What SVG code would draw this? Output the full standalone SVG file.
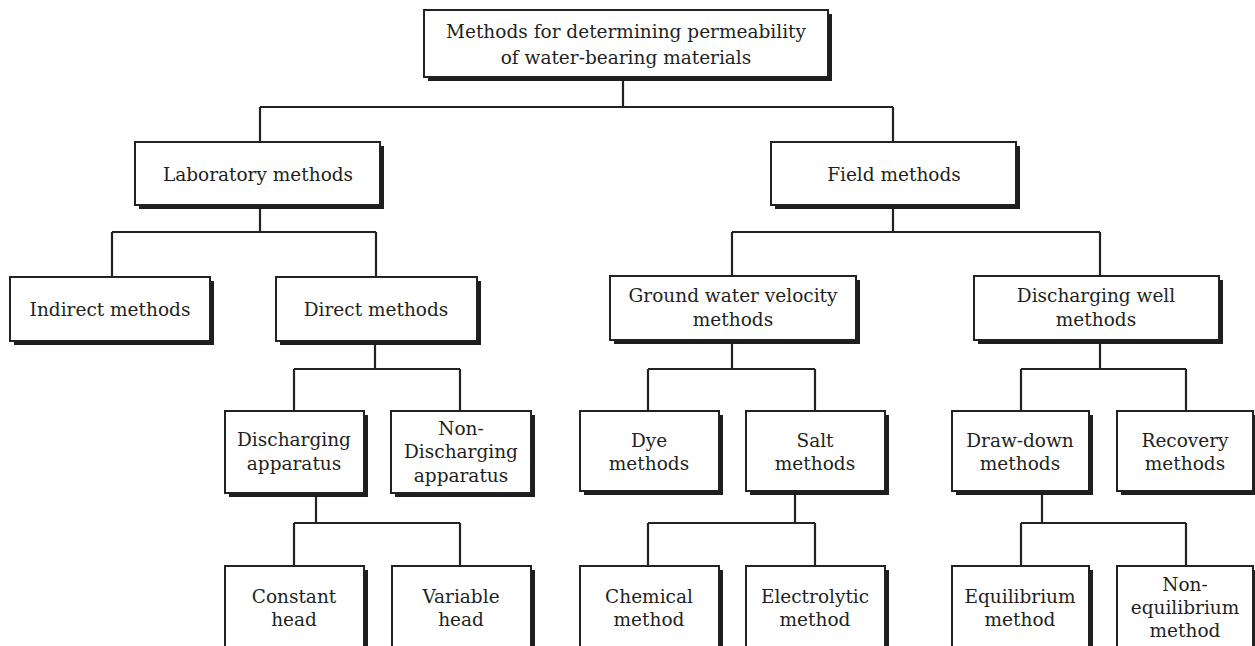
<svg xmlns="http://www.w3.org/2000/svg" width="1255" height="646" viewBox="0 0 1255 646">
<style>
.sh{fill:#1e1e1e;stroke:none}
.bx{fill:#fff;stroke:#222;stroke-width:2}
.t{font-family:"DejaVu Serif","Liberation Serif",serif;font-size:18.5px;fill:#231f20;text-anchor:middle}
.c{fill:none;stroke:#222;stroke-width:2.2}
</style>
<rect width="1255" height="646" fill="#fff"/>
<g id="connectors">
<path class="c" d="M623,77V107M260,107H893M260,107V142M893,107V142"/>
<path class="c" d="M260,205V232M112,232H376M112,232V277M376,232V277"/>
<path class="c" d="M375,341V369M294,369H460M294,369V411M460,369V411"/>
<path class="c" d="M316,493V523M294,523H460M294,523V566M460,523V566"/>
<path class="c" d="M893,205V232M732,232H1100M732,232V276M1100,232V276"/>
<path class="c" d="M732,340V369M648,369H815M648,369V411M815,369V411"/>
<path class="c" d="M795,491V523M648,523H815M648,523V566M815,523V566"/>
<path class="c" d="M1100,340V369M1021,369H1186M1021,369V411M1186,369V411"/>
<path class="c" d="M1042,491V523M1021,523H1186M1021,523V566M1186,523V566"/>
</g>
<g id="root"><rect class="sh" x="428" y="14" width="404" height="67"/><rect class="bx" x="424" y="10" width="404" height="67"/><text class="t" x="626" y="38">Methods for determining permeability</text><text class="t" x="626" y="64">of water-bearing materials</text></g>
<g id="lab"><rect class="sh" x="139" y="146" width="245" height="63"/><rect class="bx" x="135" y="142" width="245" height="63"/><text class="t" x="258" y="181">Laboratory methods</text></g>
<g id="field"><rect class="sh" x="775" y="146" width="245" height="63"/><rect class="bx" x="771" y="142" width="245" height="63"/><text class="t" x="894" y="181">Field methods</text></g>
<g id="indirect"><rect class="sh" x="14" y="281" width="200" height="64"/><rect class="bx" x="10" y="277" width="200" height="64"/><text class="t" x="110" y="316">Indirect methods</text></g>
<g id="direct"><rect class="sh" x="280" y="281" width="201" height="64"/><rect class="bx" x="276" y="277" width="201" height="64"/><text class="t" x="376" y="316">Direct methods</text></g>
<g id="groundwater"><rect class="sh" x="614" y="280" width="246" height="64"/><rect class="bx" x="610" y="276" width="246" height="64"/><text class="t" x="733" y="302">Ground water velocity</text><text class="t" x="733" y="326">methods</text></g>
<g id="dischwell"><rect class="sh" x="978" y="280" width="245" height="64"/><rect class="bx" x="974" y="276" width="245" height="64"/><text class="t" x="1096" y="302">Discharging well</text><text class="t" x="1096" y="326">methods</text></g>
<g id="dischapp"><rect class="sh" x="229" y="415" width="139" height="82"/><rect class="bx" x="225" y="411" width="139" height="82"/><text class="t" x="294" y="446">Discharging</text><text class="t" x="294" y="470">apparatus</text></g>
<g id="nondischapp"><rect class="sh" x="395" y="415" width="140" height="82"/><rect class="bx" x="391" y="411" width="140" height="82"/><text class="t" x="461" y="435">Non-</text><text class="t" x="461" y="458">Discharging</text><text class="t" x="461" y="482">apparatus</text></g>
<g id="dye"><rect class="sh" x="584" y="415" width="139" height="80"/><rect class="bx" x="580" y="411" width="139" height="80"/><text class="t" x="649" y="447">Dye</text><text class="t" x="649" y="470">methods</text></g>
<g id="salt"><rect class="sh" x="750" y="415" width="139" height="80"/><rect class="bx" x="746" y="411" width="139" height="80"/><text class="t" x="815" y="447">Salt</text><text class="t" x="815" y="470">methods</text></g>
<g id="drawdown"><rect class="sh" x="956" y="415" width="137" height="80"/><rect class="bx" x="952" y="411" width="137" height="80"/><text class="t" x="1020" y="447">Draw-down</text><text class="t" x="1020" y="470">methods</text></g>
<g id="recovery"><rect class="sh" x="1121" y="415" width="136" height="80"/><rect class="bx" x="1117" y="411" width="136" height="80"/><text class="t" x="1185" y="447">Recovery</text><text class="t" x="1185" y="470">methods</text></g>
<g id="constant"><rect class="sh" x="229" y="570" width="139" height="90"/><rect class="bx" x="225" y="566" width="139" height="90"/><text class="t" x="294" y="603">Constant</text><text class="t" x="294" y="626">head</text></g>
<g id="variable"><rect class="sh" x="396" y="570" width="139" height="90"/><rect class="bx" x="392" y="566" width="139" height="90"/><text class="t" x="461" y="603">Variable</text><text class="t" x="461" y="626">head</text></g>
<g id="chemical"><rect class="sh" x="584" y="570" width="139" height="90"/><rect class="bx" x="580" y="566" width="139" height="90"/><text class="t" x="649" y="603">Chemical</text><text class="t" x="649" y="626">method</text></g>
<g id="electrolytic"><rect class="sh" x="750" y="570" width="139" height="90"/><rect class="bx" x="746" y="566" width="139" height="90"/><text class="t" x="815" y="603">Electrolytic</text><text class="t" x="815" y="626">method</text></g>
<g id="equilibrium"><rect class="sh" x="956" y="570" width="137" height="90"/><rect class="bx" x="952" y="566" width="137" height="90"/><text class="t" x="1020" y="603">Equilibrium</text><text class="t" x="1020" y="626">method</text></g>
<g id="nonequilibrium"><rect class="sh" x="1121" y="570" width="136" height="90"/><rect class="bx" x="1117" y="566" width="136" height="90"/><text class="t" x="1185" y="591">Non-</text><text class="t" x="1185" y="614">equilibrium</text><text class="t" x="1185" y="637">method</text></g>
</svg>
